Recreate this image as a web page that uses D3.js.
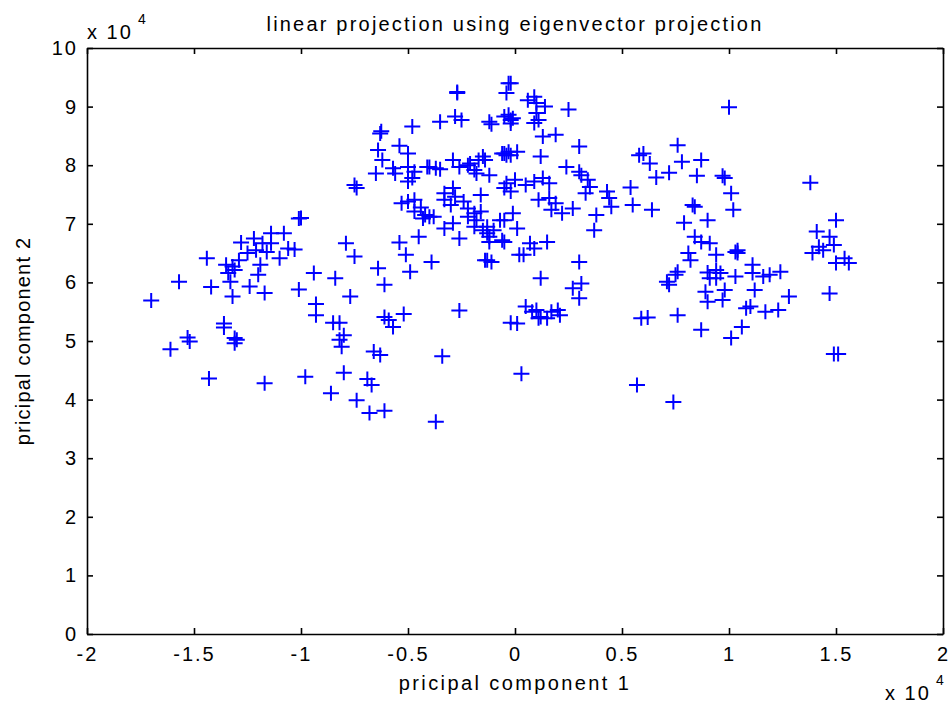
<!DOCTYPE html>
<html>
<head>
<meta charset="utf-8">
<script src="https://cdn.jsdelivr.net/npm/d3@7"></script>
<style>
  html, body { margin: 0; padding: 0; background: #fff; }
  svg text { font-family: "Liberation Sans", Arial, sans-serif; fill: #000; }
</style>
</head>
<body>
<div id="chart"></div>
<script>
// values are in units of 1e4 (see the "x 10^4" exponent labels)
const pc1 = [
  -1.70,-1.61,-1.57,-1.53,-1.52,-1.44,-1.43,-1.42,-1.36,-1.36,
  -1.35,-1.34,-1.33,-1.32,-1.32,-1.31,-1.31,-1.31,-1.30,-1.29,
  -1.28,-1.25,-1.24,-1.22,-1.21,-1.20,-1.19,-1.18,-1.17,-1.17,
  -1.16,-1.14,-1.14,-1.10,-1.08,-1.06,-1.03,-1.01,-1.01,-1.00,
  -0.98,-0.94,-0.93,-0.93,-0.86,-0.85,-0.84,-0.82,-0.82,-0.81,
  -0.80,-0.80,-0.79,-0.77,-0.75,-0.74,-0.75,-0.74,-0.69,-0.68,
  -0.67,-0.66,-0.65,-0.64,-0.64,-0.63,-0.625,-0.63,-0.62,-0.61,
  -0.61,-0.61,-0.59,-0.57,-0.56,-0.57,-0.54,-0.54,-0.53,-0.52,
  -0.51,-0.50,-0.50,-0.50,-0.50,-0.49,-0.48,-0.48,-0.47,-0.47,
  -0.47,-0.45,-0.44,-0.42,-0.40,-0.43,-0.41,-0.40,-0.37,-0.35,
  -0.39,-0.38,-0.37,-0.35,-0.34,-0.33,-0.33,-0.33,-0.30,-0.29,
  -0.29,-0.29,-0.28,-0.28,-0.27,-0.27,-0.26,-0.26,-0.26,-0.25,
  -0.24,-0.22,-0.22,-0.22,-0.21,-0.19,-0.19,-0.19,-0.18,-0.18,
  -0.17,-0.16,-0.16,-0.15,-0.15,-0.14,-0.14,-0.13,-0.13,-0.13,
  -0.12,-0.12,-0.12,-0.12,-0.11,-0.11,-0.10,-0.07,-0.06,-0.06,
  -0.05,-0.05,-0.05,-0.05,-0.05,-0.04,-0.04,-0.04,-0.03,-0.02,
  -0.03,-0.03,-0.02,-0.02,-0.02,-0.02,-0.02,-0.01,-0.01,0.00,
  0.01,0.01,0.01,0.02,0.03,0.04,0.05,0.05,0.06,0.07,
  0.08,0.09,0.09,0.09,0.09,0.10,0.10,0.10,0.11,0.11,
  0.11,0.12,0.12,0.12,0.13,0.13,0.14,0.15,0.15,0.16,
  0.16,0.17,0.17,0.19,0.19,0.20,0.21,0.22,0.24,0.25,
  0.27,0.27,0.30,0.30,0.30,0.30,0.31,0.31,0.33,0.34,
  0.35,0.37,0.38,0.43,0.44,0.45,0.54,0.55,0.57,0.58,
  0.59,0.60,0.62,0.63,0.64,0.66,0.71,0.72,0.72,0.74,
  0.75,0.76,0.76,0.76,0.78,0.79,0.81,0.82,0.83,0.84,
  0.84,0.85,0.87,0.87,0.87,0.89,0.90,0.90,0.90,0.91,
  0.91,0.94,0.94,0.94,0.96,0.97,0.97,0.98,0.98,1.00,
  1.01,1.01,1.02,1.03,1.04,1.04,1.03,1.06,1.08,1.10,
  1.11,1.11,1.12,1.16,1.17,1.19,1.23,1.24,1.28,1.38,
  1.39,1.41,1.42,1.44,1.47,1.47,1.49,1.49,1.50,1.50,
  1.51,1.54,1.56
]

const pc2 = [
  5.69,4.86,6.01,5.06,4.99,6.41,4.36,5.92,5.30,5.23,
  6.30,6.16,6.01,6.27,5.76,5.05,6.21,4.96,5.02,6.38,
  6.68,6.50,5.93,6.75,6.55,6.13,6.30,6.67,4.28,5.82,
  6.52,6.84,6.67,6.41,6.84,6.58,6.56,5.88,7.09,7.10,
  4.39,6.16,5.63,5.44,4.11,5.31,6.07,5.02,5.31,4.90,
  5.10,4.46,6.67,5.76,7.66,7.61,6.44,3.99,4.35,3.77,
  4.25,4.82,7.86,8.26,6.24,8.54,8.58,4.76,8.09,5.41,
  3.81,5.96,5.36,7.95,7.86,5.24,8.33,6.68,7.35,5.46,
  6.47,7.38,8.20,7.97,7.72,6.18,8.66,7.78,7.89,7.41,
  7.21,6.78,7.28,7.15,7.12,7.09,7.97,7.97,7.95,7.93,
  6.35,7.12,3.62,8.74,4.74,7.52,6.92,7.41,7.32,7.61,
  8.09,7.01,8.83,7.46,9.25,9.23,7.97,6.75,5.52,8.77,
  7.38,8.00,7.12,7.26,8.03,7.92,7.18,6.95,7.86,7.06,
  8.09,7.49,7.21,6.89,8.15,8.09,6.38,6.95,6.84,6.38,
  6.69,8.74,7.83,6.78,8.70,6.35,6.89,7.06,8.20,6.72,
  8.83,8.20,7.61,7.06,6.69,9.23,8.17,7.69,9.40,9.40,
  8.86,8.23,8.77,8.71,8.17,7.55,5.31,8.80,7.18,7.75,
  8.23,6.92,5.30,6.47,4.44,6.47,7.66,5.59,9.11,6.67,
  5.50,9.17,8.72,7.72,6.58,9.06,8.89,5.53,8.77,7.41,
  5.39,8.15,6.07,5.41,8.49,7.78,9.00,6.69,5.39,7.69,
  7.44,7.24,5.50,8.52,7.35,5.53,5.44,7.18,7.97,8.95,
  7.26,5.90,8.32,7.89,6.35,5.73,7.83,5.98,7.52,7.75,
  7.63,6.89,7.15,7.55,7.44,7.29,7.62,7.32,4.25,8.17,
  5.39,8.20,5.40,8.03,7.24,7.79,6.01,7.87,5.96,3.96,
  6.13,8.34,5.44,6.18,8.06,7.02,6.50,6.38,7.32,7.29,
  6.78,7.82,8.09,6.69,5.19,5.84,7.06,6.17,5.67,6.67,
  6.07,6.21,6.47,6.07,6.16,5.70,7.82,7.78,5.87,8.99,
  5.05,7.52,7.24,6.52,6.50,6.55,6.10,5.24,5.56,5.59,
  6.30,6.16,5.87,6.10,5.50,6.13,5.53,6.18,5.76,7.70,
  6.50,6.87,6.61,6.55,6.78,5.81,6.64,4.78,7.06,6.33,
  4.78,6.41,6.33
]

const xTicks = [-2, -1.5, -1, -0.5, 0, 0.5, 1, 1.5, 2]
const xTickLabels = ["-2", "-1.5", "-1", "-0.5", "0", "0.5", "1", "1.5", "2"]
const yTicks = [0, 1, 2, 3, 4, 5, 6, 7, 8, 9, 10]
const yTickLabels = ["0", "1", "2", "3", "4", "5", "6", "7", "8", "9", "10"]

const title = "linear projection using eigenvector projection"
const xTitle = "pricipal component 1"
const yTitle = "pricipal component 2"

const width = 950, height = 706
const plot = { left: 87, right: 943, top: 48, bottom: 634 }

const svg = d3.select("#chart")
  .append("svg")
  .attr("width", width)
  .attr("height", height)

const x = d3.scaleLinear().domain([-2, 2]).range([plot.left, plot.right])
const y = d3.scaleLinear().domain([0, 10]).range([plot.bottom, plot.top])

function styleAxis(g) {
  g.attr("font-size", null).attr("font-family", null)
  g.select(".domain").attr("stroke", "#000").attr("stroke-width", 1.6)
  g.selectAll(".tick line").attr("stroke", "#000").attr("stroke-width", 1.6)
  g.selectAll(".tick text")
    .style("font-size", "20px")
    .style("letter-spacing", "2px")
}

// bottom & left with labels, top & right only ticks (box)
svg.append("g")
  .attr("transform", `translate(0,${plot.bottom})`)
  .call(d3.axisBottom(x).tickValues(xTicks)
    .tickFormat((d, i) => xTickLabels[i])
    .tickSizeInner(-6).tickSizeOuter(0).tickPadding(13))
  .call(styleAxis)

svg.append("g")
  .attr("transform", `translate(${plot.left},0)`)
  .call(d3.axisLeft(y).tickValues(yTicks)
    .tickFormat((d, i) => yTickLabels[i])
    .tickSizeInner(-6).tickSizeOuter(0).tickPadding(9))
  .call(styleAxis)

svg.append("g")
  .attr("transform", `translate(0,${plot.top})`)
  .call(d3.axisTop(x).tickValues(xTicks).tickFormat("")
    .tickSizeInner(-6).tickSizeOuter(0))
  .call(styleAxis)

svg.append("g")
  .attr("transform", `translate(${plot.right},0)`)
  .call(d3.axisRight(y).tickValues(yTicks).tickFormat("")
    .tickSizeInner(-6).tickSizeOuter(0))
  .call(styleAxis)

// plus markers
const points = pc1.map((v, i) => [v, pc2[i]])

svg.append("g")
  .selectAll("path")
  .data(points)
  .enter()
    .append("path")
    .attr("d", "M-8,0H8M0,-7.5V7.5")
    .attr("transform", d => `translate(${x(d[0])},${y(d[1])})`)
    .attr("fill", "none")
    .attr("stroke", "#0000ff")
    .attr("stroke-width", 2)

// titles
svg.append("text")
  .attr("x", (plot.left + plot.right) / 2)
  .attr("y", 31)
  .attr("text-anchor", "middle")
  .style("font-size", "20px")
  .style("letter-spacing", "2.2px")
  .text(title)

svg.append("text")
  .attr("x", (plot.left + plot.right) / 2)
  .attr("y", 690)
  .attr("text-anchor", "middle")
  .style("font-size", "20px")
  .style("letter-spacing", "2.4px")
  .text(xTitle)

svg.append("text")
  .attr("transform", `translate(30,${(plot.top + plot.bottom) / 2}) rotate(-90)`)
  .attr("text-anchor", "middle")
  .style("font-size", "20px")
  .style("letter-spacing", "1.2px")
  .text(yTitle)

// exponent labels
function exponent(x0, yBase) {
  svg.append("text")
    .attr("x", x0).attr("y", yBase)
    .style("font-size", "20px")
    .style("letter-spacing", "2px")
    .text("x 10")
  svg.append("text")
    .attr("x", x0 + 51).attr("y", yBase - 15)
    .style("font-size", "14px")
    .text("4")
}
exponent(87, 39)
exponent(885, 700)
</script>
</body>
</html>
